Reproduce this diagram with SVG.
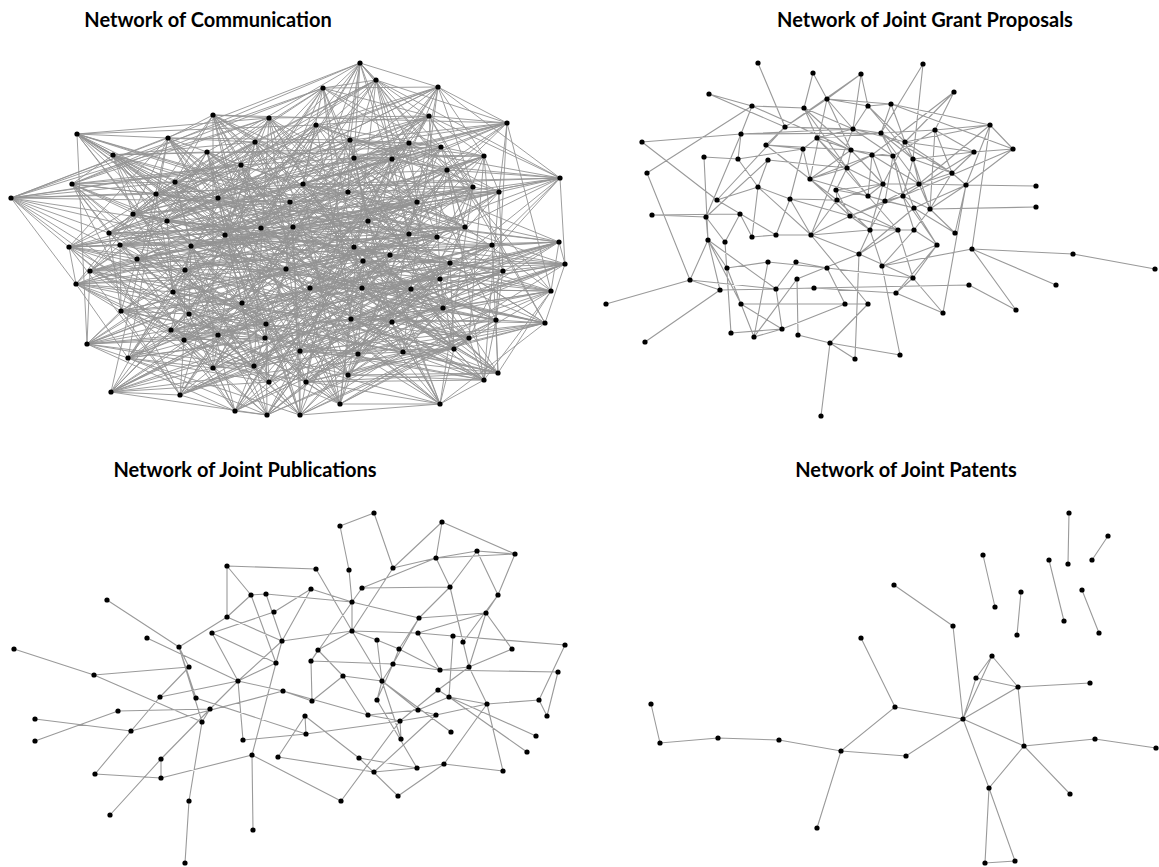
<svg xmlns="http://www.w3.org/2000/svg" width="1159" height="867" viewBox="0 0 1159 867">
<style>
.t{font-family:Lato,"Liberation Sans",sans-serif;font-weight:700;font-size:20px;fill:#000;text-anchor:middle}
.ec{fill:none;stroke:#939393;stroke-width:0.9}
.e{fill:none;stroke:#9a9a9a;stroke-width:1.1}
.nodes circle{fill:#000}
</style>
<rect width="1159" height="867" fill="#fff"/>
<g id="titles">
<text class="t" x="208" y="27">Network of Communication</text>
<text class="t" x="925" y="27">Network of Joint Grant Proposals</text>
<text class="t" x="245" y="477">Network of Joint Publications</text>
<text class="t" x="906" y="477">Network of Joint Patents</text>
</g>
<g id="connectors">
<path class="ec" d="M213 115 269 118 77 134 168 138 255 142 113 155 207 152 241 165 72 184 175 182 11 198 156 194 218 198 290 202 133 214 167 221 261 228 109 233 225 235 360 63 376 80 323 88 438 87 507 123 429 116 316 125 350 140 409 143 441 147 484 156 354 158 392 159 447 170 560 178 303 184 473 187 499 192 348 192 417 202 368 221 293 227 465 227 409 234 437 237 69 247 120 245 191 246 137 259 90 271 185 270 286 269 76 284 173 292 242 303 121 311 189 314 266 324 171 330 218 335 265 338 184 340 87 344 128 358 213 368 254 366 269 382 111 392 180 395 235 411 267 415 492 245 559 242 354 247 390 255 565 264 363 261 450 263 503 271 440 279 310 288 362 288 411 289 551 291 443 308 351 319 392 322 496 320 545 323 469 338 454 349 300 351 358 354 403 352 498 373 348 375 484 380 306 382 340 404 440 404 300 415Z
M213 115 168 138 207 152 175 182 218 198 167 221 225 235 323 88 429 116 409 143 354 158 560 178 499 192 368 221 409 234 120 245 90 271 76 284 121 311 171 330 184 340 213 368 111 392 267 415 354 247 363 261 440 279 411 289 351 319 545 323 300 351 498 373 306 382 300 415 77 134 113 155 72 184 156 194 133 214 109 233 376 80 507 123 350 140 484 156 447 170 473 187 417 202 465 227 69 247 137 259 286 269 242 303 266 324 265 338 128 358 269 382 235 411 559 242 565 264 503 271 362 288 443 308 496 320 454 349 403 352 484 380 440 404 269 118 255 142 241 165 11 198 290 202 261 228 360 63 438 87 316 125 441 147 392 159 303 184 348 192 293 227 437 237 191 246 185 270 173 292 189 314 218 335 87 344 254 366 180 395 492 245 390 255 450 263 310 288 551 291 392 322 469 338 358 354 348 375 340 404Z
M213 115 241 165 133 214 323 88 441 147 473 187 409 234 185 270 266 324 213 368 492 245 503 271 351 319 358 354 440 404 113 155 218 198 360 63 350 140 560 178 293 227 137 259 121 311 87 344 235 411 363 261 551 291 454 349 306 382 168 138 11 198 109 233 429 116 392 159 417 202 120 245 173 292 265 338 111 392 390 255 362 288 545 323 348 375 269 118 72 184 167 221 438 87 484 156 499 192 437 237 286 269 171 330 254 366 559 242 440 279 392 322 403 352 300 415 207 152 290 202 376 80 409 143 303 184 465 227 90 271 189 314 128 358 267 415 450 263 443 308 300 351 340 404 255 142 156 194 225 235 316 125 447 170 368 221 191 246 242 303 184 340 180 395 565 264 411 289 469 338 484 380 77 134 175 182 261 228 507 123 354 158 348 192 69 247 76 284 218 335 269 382 354 247 310 288 496 320 498 373Z
M213 115 290 202 350 140 368 221 173 292 269 382 440 279 358 354 255 142 109 233 354 158 437 237 266 324 267 415 551 291 484 380 72 184 323 88 303 184 137 259 184 340 390 255 496 320 300 415 218 198 316 125 417 202 76 284 254 366 503 271 300 351 168 138 261 228 484 156 409 234 189 314 235 411 411 289 348 375 241 165 376 80 560 178 191 246 265 338 354 247 392 322 440 404 156 194 429 116 348 192 286 269 213 368 450 263 454 349 77 134 167 221 441 147 465 227 121 311 180 395 362 288 498 373 207 152 360 63 447 170 120 245 218 335 559 242 351 319 340 404 11 198 507 123 499 192 185 270 128 358 363 261 469 338 269 118 133 214 409 143 293 227 242 303 111 392 310 288 403 352 113 155 225 235 392 159 69 247 171 330 492 245 443 308 306 382 175 182 438 87 473 187 90 271 87 344 565 264 545 323Z
M213 115 507 123 191 246 267 415 403 352 167 221 417 202 87 344 351 319 241 165 354 158 242 303 450 263 300 415 438 87 120 245 235 411 358 354 133 214 348 192 184 340 443 308 207 152 484 156 173 292 363 261 440 404 323 88 69 247 180 395 300 351 290 202 499 192 265 338 551 291 113 155 441 147 76 284 565 264 340 404 376 80 437 237 111 392 454 349 218 198 473 187 218 335 411 289 255 142 409 143 286 269 390 255 306 382 360 63 409 234 269 382 469 338 156 194 303 184 171 330 362 288 168 138 350 140 185 270 354 247 484 380 225 235 465 227 254 366 545 323 11 198 560 178 266 324 310 288 77 134 316 125 90 271 559 242 348 375 109 233 293 227 213 368 496 320 175 182 447 170 189 314 440 279 269 118 429 116 137 259 492 245 498 373 261 228 368 221 128 358 392 322 72 184 392 159 121 311 503 271Z
M213 115 348 192 565 264 156 194 90 271 392 322 438 87 265 338 306 382 560 178 492 245 241 165 69 247 411 289 225 235 189 314 403 352 484 156 111 392 168 138 293 227 503 271 133 214 76 284 469 338 316 125 128 358 300 415 499 192 390 255 11 198 137 259 351 319 323 88 218 335 484 380 447 170 267 415 207 152 437 237 362 288 109 233 121 311 358 354 441 147 269 382 77 134 368 221 450 263 290 202 286 269 545 323 429 116 87 344 440 404 473 187 354 247 175 182 191 246 443 308 376 80 171 330 348 375 392 159 235 411 113 155 409 234 310 288 261 228 242 303 300 351 409 143 254 366 269 118 417 202 363 261 218 198 185 270 496 320 507 123 184 340 340 404 303 184 559 242 72 184 120 245 551 291 360 63 266 324 498 373 354 158 180 395 255 142 465 227 440 279 167 221 173 292 454 349 350 140 213 368Z
M213 115 465 227 551 291 507 123 254 366 113 155 191 246 545 323 441 147 267 415 11 198 76 284 403 352 560 178 565 264 167 221 266 324 340 404 417 202 310 288 376 80 87 344 77 134 437 237 351 319 316 125 111 392 241 165 90 271 454 349 354 158 559 242 218 198 242 303 348 375 473 187 450 263 109 233 218 335 300 415 293 227 411 289 438 87 213 368 255 142 120 245 496 320 409 143 235 411 175 182 286 269 358 354 447 170 390 255 133 214 189 314 306 382 348 192 440 279 360 63 184 340 269 118 409 234 443 308 429 116 269 382 207 152 137 259 469 338 484 156 492 245 156 194 173 292 498 373 303 184 363 261 261 228 171 330 440 404 368 221 362 288 323 88 128 358 168 138 69 247 392 322 350 140 180 395 72 184 185 270 300 351 392 159 354 247 290 202 121 311 484 380 499 192 503 271 225 235 265 338Z
M213 115 175 182 225 235 409 143 499 192 120 245 121 311 213 368 354 247 411 289 300 351 300 415 72 184 109 233 350 140 473 187 69 247 242 303 128 358 559 242 362 288 454 349 440 404 241 165 261 228 316 125 303 184 437 237 173 292 87 344 492 245 310 288 469 338 340 404 207 152 167 221 429 116 560 178 409 234 76 284 184 340 267 415 440 279 545 323 306 382 113 155 133 214 507 123 447 170 465 227 286 269 265 338 235 411 503 271 496 320 484 380 255 142 290 202 438 87 392 159 293 227 185 270 218 335 180 395 450 263 392 322 348 375 168 138 218 198 323 88 354 158 368 221 90 271 171 330 111 392 363 261 351 319 498 373 77 134 156 194 376 80 484 156 417 202 137 259 266 324 269 382 565 264 443 308 403 352 269 118 11 198 360 63 441 147 348 192 191 246 189 314 254 366 390 255 551 291 358 354Z
M213 115 156 194 438 87 560 178 69 247 189 314 111 392 503 271 469 338 300 415 11 198 323 88 447 170 437 237 121 311 269 382 450 263 545 323 440 404 175 182 376 80 392 159 409 234 242 303 254 366 363 261 496 320 340 404 72 184 360 63 354 158 465 227 173 292 213 368 565 264 392 322 306 382 241 165 225 235 484 156 293 227 76 284 128 358 390 255 351 319 484 380 207 152 109 233 441 147 368 221 286 269 87 344 354 247 443 308 348 375 113 155 261 228 409 143 417 202 185 270 184 340 559 242 551 291 498 373 255 142 167 221 350 140 348 192 90 271 265 338 492 245 411 289 403 352 168 138 133 214 316 125 499 192 137 259 218 335 267 415 362 288 358 354 77 134 290 202 429 116 473 187 191 246 171 330 235 411 310 288 300 351 269 118 218 198 507 123 303 184 120 245 266 324 180 395 440 279 454 349Z"/>
<path class="e" d="M758 63L785 127M813 73L804 108M813 73L827 99M861 74L827 99M861 74L785 127M861 74L868 106M709 94L785 127M709 94L752 106M752 106L741 134M752 106L804 108M752 106L851 150M752 106L647 173M827 99L785 127M827 99L891 104M827 99L851 150M827 99L810 179M741 134L881 133M741 134L738 159M741 134L706 217M642 142L741 134M642 142L717 200M785 127L766 145M785 127L717 200M766 145L851 150M766 145L803 149M704 157L738 159M704 157L708 240M738 159L758 187M768 160L758 187M768 160L706 217M803 149L817 138M803 149L810 179M803 149L790 199M847 168L836 190M847 168L810 179M836 190L837 200M836 190L868 196M717 200L758 187M758 187L790 199M652 215L706 217M652 215L740 214M706 217L708 240M706 217L725 242M647 173L690 280M740 214L752 237M740 214L725 242M923 64L881 133M954 92L905 142M954 92L872 155M891 104L990 125M891 104L1013 149M891 104L881 133M891 104L905 142M990 125L1013 149M990 125L966 185M990 125L919 184M1013 149L966 185M935 130L881 133M935 130L930 209M905 142L974 152M974 152L903 196M974 152L913 159M952 173L913 159M952 173L966 185M966 185L1036 186M930 209L1036 207M966 185L919 184M966 185L914 208M966 185L943 313M955 233L914 208M955 233L930 209M883 184L919 184M885 201L903 196M708 240L690 280M708 240L720 290M708 240L727 268M708 240L741 304M708 240L776 289M690 280L606 304M690 280L720 290M690 280L776 289M720 290L645 342M720 290L776 289M725 242L731 333M727 268L741 304M727 268L768 262M741 304L845 304M741 304L782 329M782 329L754 337M782 329L845 304M754 337L768 262M754 337L797 279M798 335L830 343M798 335L797 279M830 343L855 359M830 343L821 416M830 343L868 304M830 343L900 355M855 359L859 254M900 355L882 266M845 304L868 304M845 304L827 268M896 293L913 278M896 293L814 288M814 288L969 285M913 278L937 245M913 278L859 254M943 313L896 293M943 313L913 278M969 285L1016 310M972 249L1073 254M1073 254L1155 269M972 249L1056 285M972 249L1016 310M972 249L882 266M990 125L972 249M827 268L768 262M827 268L796 262M827 268L913 278M776 289L796 262M776 289L814 288M776 289L782 329M797 279L859 254M868 304L811 235M731 333L782 329M741 304L754 337M853 129L868 106M853 129L881 133M853 129L811 235M868 106L905 142M868 106L913 159M881 133L893 156M881 133L952 173M872 155L893 156M872 155L919 184M872 155L810 179M893 156L885 201M893 156L935 130M913 159L930 209M883 184L837 200M883 184L870 230M870 230L898 230M898 230L914 230M914 230L930 209M914 230L937 245M850 216L870 230M850 216L811 235M850 216L903 196M868 196L914 208M868 196L847 168M837 200L811 235M811 235L776 235M776 235L752 237M790 199L776 235M810 179L851 150M817 138L853 129M817 138L881 133M804 108L853 129M804 108L817 138M851 150L872 155M851 150L847 168M990 125L905 142M1013 149L903 196M923 64L913 159M954 92L935 130M885 201L870 230M898 230L859 254M914 208L859 254M937 245L882 266M903 196L937 245M919 184L885 201M766 145L837 200M758 187L811 235M790 199L837 200M741 134L853 129M785 127L853 129M868 196L883 184M850 216L885 201M837 200L898 230M810 179L868 196M790 199L850 216M817 138L868 196M804 108L847 168M766 145L810 179M738 159L803 149M768 160L847 168M717 200L776 235M758 187L752 237M896 293L937 245M859 254L811 235M882 266L870 230M853 129L905 142M853 129L893 156M868 106L891 104M881 133L913 159M881 133L919 184M905 142L913 159M905 142L952 173M905 142L883 184M913 159L919 184M913 159L903 196M893 156L903 196M893 156L914 208M872 155L883 184M872 155L868 196M851 150L883 184M851 150L893 156M847 168L872 155M847 168L903 196M836 190L850 216M836 190L883 184M837 200L870 230M868 196L885 201M868 196L898 230M885 201L914 208M903 196L930 209M903 196L914 230M919 184L930 209M919 184L952 173M952 173L930 209M952 173L974 152M935 130L952 173M935 130L974 152M974 152L1013 149M990 125L935 130M817 138L851 150M817 138L847 168M804 108L851 150M827 99L868 106M827 99L853 129M861 74L853 129M810 179L837 200M810 179L850 216M790 199L811 235M811 235L870 230M850 216L898 230M914 208L937 245M930 209L955 233M966 185L955 233M966 185L930 209M913 278L898 230M882 266L914 230M859 254L870 230"/>
<path class="e" d="M227 566L316 569M227 566L227 617M227 566L251 595M251 595L266 594M266 594L352 602M251 595L227 617M251 595L276 663M266 594L282 641M227 617L179 647M227 617L282 641M212 633L274 612M212 633L238 681M212 633L276 663M274 612L311 589M107 600L179 647M147 638L238 681M179 647L189 667M14 649L94 675M94 675L189 667M94 675L202 722M238 681L276 663M238 681L282 641M276 663L282 641M374 513L340 526M374 513L393 568M340 526L349 570M349 570L352 602M442 522L393 568M442 522L436 558M442 522L515 554M393 568L436 558M436 558L477 551M436 558L515 554M477 551L515 554M393 568L352 631M316 569L352 631M362 588L450 587M362 588L352 602M362 588L436 558M450 587L436 558M450 587L477 551M450 587L419 618M450 587L463 642M498 595L477 551M498 595L515 554M498 595L486 613M486 613L419 618M486 613L418 633M486 613L469 667M352 602L419 618M352 602L352 631M352 602L311 661M352 631L282 641M352 631L377 640M352 631L418 633M352 631L382 681M352 631L318 650M311 589L282 641M419 618L399 649M419 618L393 664M418 633L453 636M418 633L440 670M453 636L565 645M453 636L449 697M463 642L498 595M463 642L469 667M377 640L382 681M377 640L399 649M399 649L393 664M399 649L440 670M393 664L440 670M393 664L382 681M318 650L311 661M311 661L393 664M343 676L382 681M343 676L318 650M440 670L469 667M440 670L558 672M469 667L512 649M512 649L486 613M565 645L539 700M311 589L352 602M238 681L160 697M238 681L210 709M238 681L243 740M238 681L283 691M160 697L131 731M196 698L306 734M118 711L210 709M118 711L35 741M35 719L131 731M131 731L283 691M131 731L95 774M210 709L202 722M210 709L161 759M202 722L189 801M189 801L185 863M161 759L161 778M161 759L110 815M95 774L161 778M161 778L252 755M252 755L253 830M252 755L341 801M252 755L276 663M243 740L306 734M306 734L400 721M278 757L374 772M278 757L305 716M312 701L343 676M305 716L306 734M305 716L359 758M283 691L368 715M359 758L417 768M374 772L417 768M374 772L436 715M417 768L444 764M444 764L503 771M503 771L487 704M398 796L444 764M398 796L359 758M341 801L400 721M444 764L487 704M368 715L400 721M400 721L436 715M368 715L418 710M418 710L449 697M418 710L436 715M449 697L487 704M487 704L539 700M539 700L547 716M449 697L536 736M449 697L527 752M487 704L436 715M382 681L418 710M382 681L451 732M382 681L401 739M401 739L400 721M377 700L417 768M179 647L196 698M179 647L202 722M189 667L160 697M283 691L312 701M377 700L382 681M311 661L312 701M343 676L368 715M393 664L377 700M469 667L487 704M438 690L449 697M438 690L469 667M438 690L400 721M558 672L547 716"/>
<path class="e" d="M1069 513L1068 564M1108 536L1092 560M983 555L995 607M1049 560L1064 621M1021 592L1017 635M1082 590L1099 633M894 585L953 626M953 626L963 719M861 638L895 707M992 656L1018 687M976 678L1018 687M992 656L963 719M976 678L963 719M992 656L976 678M963 719L1018 687M1018 687L1090 683M1018 687L1024 746M651 704L660 743L718 738L779 740L841 751L895 707L963 719M841 751L906 756L963 719M841 751L817 828M963 719L1024 746M963 719L989 788L1024 746L1095 739L1156 748M1024 746L1070 794M989 788L985 863L1015 861L989 788"/>
</g>
<g id="nodes-communication" class="nodes">
<g id="c1"><circle cx="213" cy="115" r="2.6"/></g><g id="c2"><circle cx="269" cy="118" r="2.6"/></g><g id="c3"><circle cx="77" cy="134" r="2.6"/></g><g id="c4"><circle cx="168" cy="138" r="2.6"/></g><g id="c5"><circle cx="255" cy="142" r="2.6"/></g><g id="c6"><circle cx="113" cy="155" r="2.6"/></g><g id="c7"><circle cx="207" cy="152" r="2.6"/></g><g id="c8"><circle cx="241" cy="165" r="2.6"/></g><g id="c9"><circle cx="72" cy="184" r="2.6"/></g><g id="c10"><circle cx="175" cy="182" r="2.6"/></g>
<g id="c11"><circle cx="11" cy="198" r="2.6"/></g><g id="c12"><circle cx="156" cy="194" r="2.6"/></g><g id="c13"><circle cx="218" cy="198" r="2.6"/></g><g id="c14"><circle cx="290" cy="202" r="2.6"/></g><g id="c15"><circle cx="133" cy="214" r="2.6"/></g><g id="c16"><circle cx="167" cy="221" r="2.6"/></g><g id="c17"><circle cx="261" cy="228" r="2.6"/></g><g id="c18"><circle cx="109" cy="233" r="2.6"/></g><g id="c19"><circle cx="225" cy="235" r="2.6"/></g><g id="c20"><circle cx="360" cy="63" r="2.6"/></g>
<g id="c21"><circle cx="376" cy="80" r="2.6"/></g><g id="c22"><circle cx="323" cy="88" r="2.6"/></g><g id="c23"><circle cx="438" cy="87" r="2.6"/></g><g id="c24"><circle cx="507" cy="123" r="2.6"/></g><g id="c25"><circle cx="429" cy="116" r="2.6"/></g><g id="c26"><circle cx="316" cy="125" r="2.6"/></g><g id="c27"><circle cx="350" cy="140" r="2.6"/></g><g id="c28"><circle cx="409" cy="143" r="2.6"/></g><g id="c29"><circle cx="441" cy="147" r="2.6"/></g><g id="c30"><circle cx="484" cy="156" r="2.6"/></g>
<g id="c31"><circle cx="354" cy="158" r="2.6"/></g><g id="c32"><circle cx="392" cy="159" r="2.6"/></g><g id="c33"><circle cx="447" cy="170" r="2.6"/></g><g id="c34"><circle cx="560" cy="178" r="2.6"/></g><g id="c35"><circle cx="303" cy="184" r="2.6"/></g><g id="c36"><circle cx="473" cy="187" r="2.6"/></g><g id="c37"><circle cx="499" cy="192" r="2.6"/></g><g id="c38"><circle cx="348" cy="192" r="2.6"/></g><g id="c39"><circle cx="417" cy="202" r="2.6"/></g><g id="c40"><circle cx="368" cy="221" r="2.6"/></g>
<g id="c41"><circle cx="293" cy="227" r="2.6"/></g><g id="c42"><circle cx="465" cy="227" r="2.6"/></g><g id="c43"><circle cx="409" cy="234" r="2.6"/></g><g id="c44"><circle cx="437" cy="237" r="2.6"/></g><g id="c45"><circle cx="69" cy="247" r="2.6"/></g><g id="c46"><circle cx="120" cy="245" r="2.6"/></g><g id="c47"><circle cx="191" cy="246" r="2.6"/></g><g id="c48"><circle cx="137" cy="259" r="2.6"/></g><g id="c49"><circle cx="90" cy="271" r="2.6"/></g><g id="c50"><circle cx="185" cy="270" r="2.6"/></g>
<g id="c51"><circle cx="286" cy="269" r="2.6"/></g><g id="c52"><circle cx="76" cy="284" r="2.6"/></g><g id="c53"><circle cx="173" cy="292" r="2.6"/></g><g id="c54"><circle cx="242" cy="303" r="2.6"/></g><g id="c55"><circle cx="121" cy="311" r="2.6"/></g><g id="c56"><circle cx="189" cy="314" r="2.6"/></g><g id="c57"><circle cx="266" cy="324" r="2.6"/></g><g id="c58"><circle cx="171" cy="330" r="2.6"/></g><g id="c59"><circle cx="218" cy="335" r="2.6"/></g><g id="c60"><circle cx="265" cy="338" r="2.6"/></g>
<g id="c61"><circle cx="184" cy="340" r="2.6"/></g><g id="c62"><circle cx="87" cy="344" r="2.6"/></g><g id="c63"><circle cx="128" cy="358" r="2.6"/></g><g id="c64"><circle cx="213" cy="368" r="2.6"/></g><g id="c65"><circle cx="254" cy="366" r="2.6"/></g><g id="c66"><circle cx="269" cy="382" r="2.6"/></g><g id="c67"><circle cx="111" cy="392" r="2.6"/></g><g id="c68"><circle cx="180" cy="395" r="2.6"/></g><g id="c69"><circle cx="235" cy="411" r="2.6"/></g><g id="c70"><circle cx="267" cy="415" r="2.6"/></g>
<g id="c71"><circle cx="492" cy="245" r="2.6"/></g><g id="c72"><circle cx="559" cy="242" r="2.6"/></g><g id="c73"><circle cx="354" cy="247" r="2.6"/></g><g id="c74"><circle cx="390" cy="255" r="2.6"/></g><g id="c75"><circle cx="565" cy="264" r="2.6"/></g><g id="c76"><circle cx="363" cy="261" r="2.6"/></g><g id="c77"><circle cx="450" cy="263" r="2.6"/></g><g id="c78"><circle cx="503" cy="271" r="2.6"/></g><g id="c79"><circle cx="440" cy="279" r="2.6"/></g><g id="c80"><circle cx="310" cy="288" r="2.6"/></g>
<g id="c81"><circle cx="362" cy="288" r="2.6"/></g><g id="c82"><circle cx="411" cy="289" r="2.6"/></g><g id="c83"><circle cx="551" cy="291" r="2.6"/></g><g id="c84"><circle cx="443" cy="308" r="2.6"/></g><g id="c85"><circle cx="351" cy="319" r="2.6"/></g><g id="c86"><circle cx="392" cy="322" r="2.6"/></g><g id="c87"><circle cx="496" cy="320" r="2.6"/></g><g id="c88"><circle cx="545" cy="323" r="2.6"/></g><g id="c89"><circle cx="469" cy="338" r="2.6"/></g><g id="c90"><circle cx="454" cy="349" r="2.6"/></g>
<g id="c91"><circle cx="300" cy="351" r="2.6"/></g><g id="c92"><circle cx="358" cy="354" r="2.6"/></g><g id="c93"><circle cx="403" cy="352" r="2.6"/></g><g id="c94"><circle cx="498" cy="373" r="2.6"/></g><g id="c95"><circle cx="348" cy="375" r="2.6"/></g><g id="c96"><circle cx="484" cy="380" r="2.6"/></g><g id="c97"><circle cx="306" cy="382" r="2.6"/></g><g id="c98"><circle cx="340" cy="404" r="2.6"/></g><g id="c99"><circle cx="440" cy="404" r="2.6"/></g><g id="c100"><circle cx="300" cy="415" r="2.6"/></g>
</g>
<g id="nodes-grants" class="nodes">
<g id="g1"><circle cx="758" cy="63" r="2.6"/></g><g id="g2"><circle cx="813" cy="73" r="2.6"/></g><g id="g3"><circle cx="861" cy="74" r="2.6"/></g><g id="g4"><circle cx="709" cy="94" r="2.6"/></g><g id="g5"><circle cx="752" cy="106" r="2.6"/></g><g id="g6"><circle cx="827" cy="99" r="2.6"/></g><g id="g7"><circle cx="804" cy="108" r="2.6"/></g><g id="g8"><circle cx="868" cy="106" r="2.6"/></g><g id="g9"><circle cx="785" cy="127" r="2.6"/></g><g id="g10"><circle cx="741" cy="134" r="2.6"/></g>
<g id="g11"><circle cx="853" cy="129" r="2.6"/></g><g id="g12"><circle cx="881" cy="133" r="2.6"/></g><g id="g13"><circle cx="642" cy="142" r="2.6"/></g><g id="g14"><circle cx="817" cy="138" r="2.6"/></g><g id="g15"><circle cx="766" cy="145" r="2.6"/></g><g id="g16"><circle cx="803" cy="149" r="2.6"/></g><g id="g17"><circle cx="851" cy="150" r="2.6"/></g><g id="g18"><circle cx="872" cy="155" r="2.6"/></g><g id="g19"><circle cx="704" cy="157" r="2.6"/></g><g id="g20"><circle cx="738" cy="159" r="2.6"/></g>
<g id="g21"><circle cx="768" cy="160" r="2.6"/></g><g id="g22"><circle cx="647" cy="173" r="2.6"/></g><g id="g23"><circle cx="847" cy="168" r="2.6"/></g><g id="g24"><circle cx="810" cy="179" r="2.6"/></g><g id="g25"><circle cx="883" cy="184" r="2.6"/></g><g id="g26"><circle cx="758" cy="187" r="2.6"/></g><g id="g27"><circle cx="836" cy="190" r="2.6"/></g><g id="g28"><circle cx="717" cy="200" r="2.6"/></g><g id="g29"><circle cx="790" cy="199" r="2.6"/></g><g id="g30"><circle cx="837" cy="200" r="2.6"/></g>
<g id="g31"><circle cx="868" cy="196" r="2.6"/></g><g id="g32"><circle cx="652" cy="215" r="2.6"/></g><g id="g33"><circle cx="706" cy="217" r="2.6"/></g><g id="g34"><circle cx="740" cy="214" r="2.6"/></g><g id="g35"><circle cx="850" cy="216" r="2.6"/></g><g id="g36"><circle cx="870" cy="230" r="2.6"/></g><g id="g37"><circle cx="708" cy="240" r="2.6"/></g><g id="g38"><circle cx="725" cy="242" r="2.6"/></g><g id="g39"><circle cx="752" cy="237" r="2.6"/></g><g id="g40"><circle cx="776" cy="235" r="2.6"/></g>
<g id="g41"><circle cx="811" cy="235" r="2.6"/></g><g id="g42"><circle cx="923" cy="64" r="2.6"/></g><g id="g43"><circle cx="954" cy="92" r="2.6"/></g><g id="g44"><circle cx="891" cy="104" r="2.6"/></g><g id="g45"><circle cx="990" cy="125" r="2.6"/></g><g id="g46"><circle cx="1013" cy="149" r="2.6"/></g><g id="g47"><circle cx="935" cy="130" r="2.6"/></g><g id="g48"><circle cx="905" cy="142" r="2.6"/></g><g id="g49"><circle cx="974" cy="152" r="2.6"/></g><g id="g50"><circle cx="893" cy="156" r="2.6"/></g>
<g id="g51"><circle cx="913" cy="159" r="2.6"/></g><g id="g52"><circle cx="952" cy="173" r="2.6"/></g><g id="g53"><circle cx="966" cy="185" r="2.6"/></g><g id="g54"><circle cx="1036" cy="186" r="2.6"/></g><g id="g55"><circle cx="919" cy="184" r="2.6"/></g><g id="g56"><circle cx="903" cy="196" r="2.6"/></g><g id="g57"><circle cx="885" cy="201" r="2.6"/></g><g id="g58"><circle cx="914" cy="208" r="2.6"/></g><g id="g59"><circle cx="930" cy="209" r="2.6"/></g><g id="g60"><circle cx="1036" cy="207" r="2.6"/></g>
<g id="g61"><circle cx="898" cy="230" r="2.6"/></g><g id="g62"><circle cx="914" cy="230" r="2.6"/></g><g id="g63"><circle cx="955" cy="233" r="2.6"/></g><g id="g64"><circle cx="937" cy="245" r="2.6"/></g><g id="g65"><circle cx="972" cy="249" r="2.6"/></g><g id="g66"><circle cx="1073" cy="254" r="2.6"/></g><g id="g67"><circle cx="1155" cy="269" r="2.6"/></g><g id="g68"><circle cx="859" cy="254" r="2.6"/></g><g id="g69"><circle cx="768" cy="262" r="2.6"/></g><g id="g70"><circle cx="796" cy="262" r="2.6"/></g>
<g id="g71"><circle cx="727" cy="268" r="2.6"/></g><g id="g72"><circle cx="827" cy="268" r="2.6"/></g><g id="g73"><circle cx="882" cy="266" r="2.6"/></g><g id="g74"><circle cx="690" cy="280" r="2.6"/></g><g id="g75"><circle cx="797" cy="279" r="2.6"/></g><g id="g76"><circle cx="913" cy="278" r="2.6"/></g><g id="g77"><circle cx="720" cy="290" r="2.6"/></g><g id="g78"><circle cx="776" cy="289" r="2.6"/></g><g id="g79"><circle cx="814" cy="288" r="2.6"/></g><g id="g80"><circle cx="969" cy="285" r="2.6"/></g>
<g id="g81"><circle cx="1056" cy="285" r="2.6"/></g><g id="g82"><circle cx="896" cy="293" r="2.6"/></g><g id="g83"><circle cx="606" cy="304" r="2.6"/></g><g id="g84"><circle cx="741" cy="304" r="2.6"/></g><g id="g85"><circle cx="845" cy="304" r="2.6"/></g><g id="g86"><circle cx="868" cy="304" r="2.6"/></g><g id="g87"><circle cx="943" cy="313" r="2.6"/></g><g id="g88"><circle cx="1016" cy="310" r="2.6"/></g><g id="g89"><circle cx="782" cy="329" r="2.6"/></g><g id="g90"><circle cx="731" cy="333" r="2.6"/></g>
<g id="g91"><circle cx="754" cy="337" r="2.6"/></g><g id="g92"><circle cx="798" cy="335" r="2.6"/></g><g id="g93"><circle cx="645" cy="342" r="2.6"/></g><g id="g94"><circle cx="830" cy="343" r="2.6"/></g><g id="g95"><circle cx="900" cy="355" r="2.6"/></g><g id="g96"><circle cx="855" cy="359" r="2.6"/></g><g id="g97"><circle cx="821" cy="416" r="2.6"/></g>
</g>
<g id="nodes-publications" class="nodes">
<g id="p1"><circle cx="227" cy="566" r="2.6"/></g><g id="p2"><circle cx="251" cy="595" r="2.6"/></g><g id="p3"><circle cx="266" cy="594" r="2.6"/></g><g id="p4"><circle cx="227" cy="617" r="2.6"/></g><g id="p5"><circle cx="274" cy="612" r="2.6"/></g><g id="p6"><circle cx="212" cy="633" r="2.6"/></g><g id="p7"><circle cx="107" cy="600" r="2.6"/></g><g id="p8"><circle cx="147" cy="638" r="2.6"/></g><g id="p9"><circle cx="179" cy="647" r="2.6"/></g><g id="p10"><circle cx="14" cy="649" r="2.6"/></g>
<g id="p11"><circle cx="94" cy="675" r="2.6"/></g><g id="p12"><circle cx="189" cy="667" r="2.6"/></g><g id="p13"><circle cx="238" cy="681" r="2.6"/></g><g id="p14"><circle cx="276" cy="663" r="2.6"/></g><g id="p15"><circle cx="282" cy="641" r="2.6"/></g><g id="p16"><circle cx="374" cy="513" r="2.6"/></g><g id="p17"><circle cx="340" cy="526" r="2.6"/></g><g id="p18"><circle cx="442" cy="522" r="2.6"/></g><g id="p19"><circle cx="477" cy="551" r="2.6"/></g><g id="p20"><circle cx="515" cy="554" r="2.6"/></g>
<g id="p21"><circle cx="436" cy="558" r="2.6"/></g><g id="p22"><circle cx="393" cy="568" r="2.6"/></g><g id="p23"><circle cx="316" cy="569" r="2.6"/></g><g id="p24"><circle cx="349" cy="570" r="2.6"/></g><g id="p25"><circle cx="311" cy="589" r="2.6"/></g><g id="p26"><circle cx="362" cy="588" r="2.6"/></g><g id="p27"><circle cx="450" cy="587" r="2.6"/></g><g id="p28"><circle cx="498" cy="595" r="2.6"/></g><g id="p29"><circle cx="352" cy="602" r="2.6"/></g><g id="p30"><circle cx="486" cy="613" r="2.6"/></g>
<g id="p31"><circle cx="419" cy="618" r="2.6"/></g><g id="p32"><circle cx="352" cy="631" r="2.6"/></g><g id="p33"><circle cx="418" cy="633" r="2.6"/></g><g id="p34"><circle cx="453" cy="636" r="2.6"/></g><g id="p35"><circle cx="463" cy="642" r="2.6"/></g><g id="p36"><circle cx="377" cy="640" r="2.6"/></g><g id="p37"><circle cx="512" cy="649" r="2.6"/></g><g id="p38"><circle cx="565" cy="645" r="2.6"/></g><g id="p39"><circle cx="318" cy="650" r="2.6"/></g><g id="p40"><circle cx="399" cy="649" r="2.6"/></g>
<g id="p41"><circle cx="311" cy="661" r="2.6"/></g><g id="p42"><circle cx="393" cy="664" r="2.6"/></g><g id="p43"><circle cx="469" cy="667" r="2.6"/></g><g id="p44"><circle cx="440" cy="670" r="2.6"/></g><g id="p45"><circle cx="558" cy="672" r="2.6"/></g><g id="p46"><circle cx="343" cy="676" r="2.6"/></g><g id="p47"><circle cx="382" cy="681" r="2.6"/></g><g id="p48"><circle cx="160" cy="697" r="2.6"/></g><g id="p49"><circle cx="196" cy="698" r="2.6"/></g><g id="p50"><circle cx="283" cy="691" r="2.6"/></g>
<g id="p51"><circle cx="438" cy="690" r="2.6"/></g><g id="p52"><circle cx="449" cy="697" r="2.6"/></g><g id="p53"><circle cx="487" cy="704" r="2.6"/></g><g id="p54"><circle cx="539" cy="700" r="2.6"/></g><g id="p55"><circle cx="547" cy="716" r="2.6"/></g><g id="p56"><circle cx="312" cy="701" r="2.6"/></g><g id="p57"><circle cx="305" cy="716" r="2.6"/></g><g id="p58"><circle cx="377" cy="700" r="2.6"/></g><g id="p59"><circle cx="368" cy="715" r="2.6"/></g><g id="p60"><circle cx="418" cy="710" r="2.6"/></g>
<g id="p61"><circle cx="400" cy="721" r="2.6"/></g><g id="p62"><circle cx="436" cy="715" r="2.6"/></g><g id="p63"><circle cx="401" cy="739" r="2.6"/></g><g id="p64"><circle cx="451" cy="732" r="2.6"/></g><g id="p65"><circle cx="536" cy="736" r="2.6"/></g><g id="p66"><circle cx="527" cy="752" r="2.6"/></g><g id="p67"><circle cx="118" cy="711" r="2.6"/></g><g id="p68"><circle cx="35" cy="719" r="2.6"/></g><g id="p69"><circle cx="35" cy="741" r="2.6"/></g><g id="p70"><circle cx="131" cy="731" r="2.6"/></g>
<g id="p71"><circle cx="210" cy="709" r="2.6"/></g><g id="p72"><circle cx="202" cy="722" r="2.6"/></g><g id="p73"><circle cx="243" cy="740" r="2.6"/></g><g id="p74"><circle cx="306" cy="734" r="2.6"/></g><g id="p75"><circle cx="252" cy="755" r="2.6"/></g><g id="p76"><circle cx="278" cy="757" r="2.6"/></g><g id="p77"><circle cx="359" cy="758" r="2.6"/></g><g id="p78"><circle cx="374" cy="772" r="2.6"/></g><g id="p79"><circle cx="417" cy="768" r="2.6"/></g><g id="p80"><circle cx="444" cy="764" r="2.6"/></g>
<g id="p81"><circle cx="503" cy="771" r="2.6"/></g><g id="p82"><circle cx="398" cy="796" r="2.6"/></g><g id="p83"><circle cx="341" cy="801" r="2.6"/></g><g id="p84"><circle cx="161" cy="759" r="2.6"/></g><g id="p85"><circle cx="161" cy="778" r="2.6"/></g><g id="p86"><circle cx="95" cy="774" r="2.6"/></g><g id="p87"><circle cx="110" cy="815" r="2.6"/></g><g id="p88"><circle cx="189" cy="801" r="2.6"/></g><g id="p89"><circle cx="253" cy="830" r="2.6"/></g><g id="p90"><circle cx="185" cy="863" r="2.6"/></g>
</g>
<g id="nodes-patents" class="nodes">
<g id="t1"><circle cx="1069" cy="513" r="2.6"/></g><g id="t2"><circle cx="1068" cy="564" r="2.6"/></g><g id="t3"><circle cx="1108" cy="536" r="2.6"/></g><g id="t4"><circle cx="1092" cy="560" r="2.6"/></g><g id="t5"><circle cx="983" cy="555" r="2.6"/></g><g id="t6"><circle cx="995" cy="607" r="2.6"/></g><g id="t7"><circle cx="1049" cy="560" r="2.6"/></g><g id="t8"><circle cx="1064" cy="621" r="2.6"/></g><g id="t9"><circle cx="1021" cy="592" r="2.6"/></g><g id="t10"><circle cx="1017" cy="635" r="2.6"/></g>
<g id="t11"><circle cx="1082" cy="590" r="2.6"/></g><g id="t12"><circle cx="1099" cy="633" r="2.6"/></g><g id="t13"><circle cx="894" cy="585" r="2.6"/></g><g id="t14"><circle cx="953" cy="626" r="2.6"/></g><g id="t15"><circle cx="861" cy="638" r="2.6"/></g><g id="t16"><circle cx="992" cy="656" r="2.6"/></g><g id="t17"><circle cx="976" cy="678" r="2.6"/></g><g id="t18"><circle cx="1018" cy="687" r="2.6"/></g><g id="t19"><circle cx="1090" cy="683" r="2.6"/></g><g id="t20"><circle cx="651" cy="704" r="2.6"/></g>
<g id="t21"><circle cx="660" cy="743" r="2.6"/></g><g id="t22"><circle cx="718" cy="738" r="2.6"/></g><g id="t23"><circle cx="779" cy="740" r="2.6"/></g><g id="t24"><circle cx="841" cy="751" r="2.6"/></g><g id="t25"><circle cx="895" cy="707" r="2.6"/></g><g id="t26"><circle cx="906" cy="756" r="2.6"/></g><g id="t27"><circle cx="963" cy="719" r="2.6"/></g><g id="t28"><circle cx="1024" cy="746" r="2.6"/></g><g id="t29"><circle cx="1095" cy="739" r="2.6"/></g><g id="t30"><circle cx="1156" cy="748" r="2.6"/></g>
<g id="t31"><circle cx="989" cy="788" r="2.6"/></g><g id="t32"><circle cx="1070" cy="794" r="2.6"/></g><g id="t33"><circle cx="817" cy="828" r="2.6"/></g><g id="t34"><circle cx="985" cy="863" r="2.6"/></g><g id="t35"><circle cx="1015" cy="861" r="2.6"/></g>
</g>
</svg>
